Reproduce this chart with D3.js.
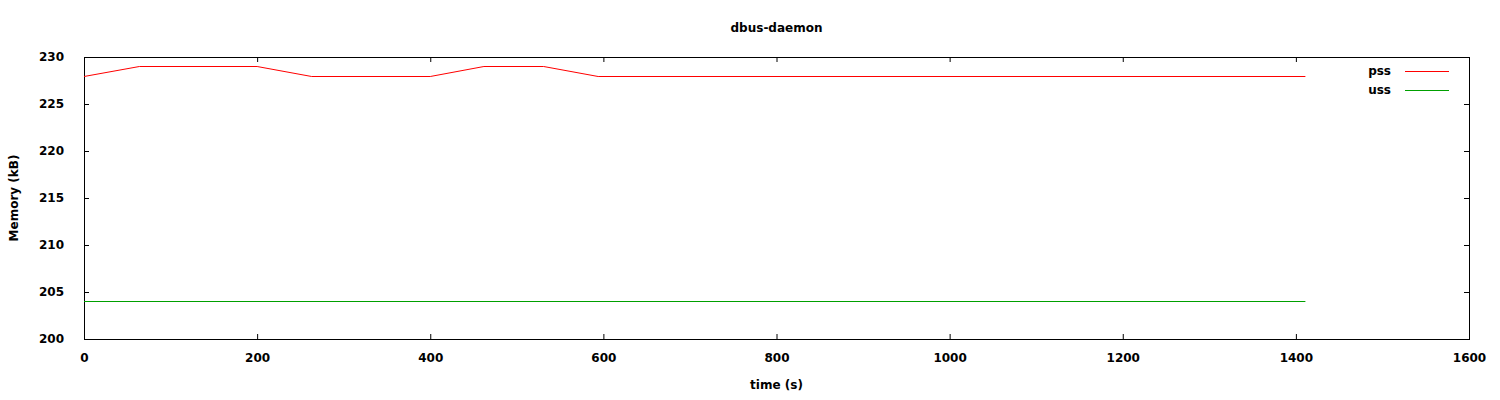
<!DOCTYPE html>
<html>
<head>
<meta charset="utf-8">
<script src="https://cdn.jsdelivr.net/npm/d3@7"></script>
<style>
body { margin: 0; background: #fff; }
text { font-family: "DejaVu Sans", sans-serif; font-size: 12px; font-weight: bold; fill: #000; }
</style>
</head>
<body>
<div id="figure"></div>
<script>
var W = 1500, H = 400;
var margin = {left: 84, right: 31, top: 57, bottom: 61};

// samples (time s, kB)
var pssTime = [0, 64, 200, 263, 400, 462, 531, 594, 1411];
var pssVal  = [228, 229, 229, 228, 228, 229, 229, 228, 228];
var ussTime = [0, 1411];
var ussVal  = [204, 204];

var xTicks = [0, 200, 400, 600, 800, 1000, 1200, 1400, 1600];
var yTicks = [200, 205, 210, 215, 220, 225, 230];

var series = [
	{label: "pss", color: "#ff0000", t: pssTime, v: pssVal},
	{label: "uss", color: "#00a000", t: ussTime, v: ussVal}
];

var svg = d3.select("#figure").append("svg").attr("width", W).attr("height", H);

var x = d3.scaleLinear().domain([0, 1600]).range([margin.left, W - margin.right]);
var y = d3.scaleLinear().domain([200, 230]).range([H - margin.bottom, margin.top]);

var tick = 5;

// ticks, mirrored on all sides, pointing inward
svg.append("g").attr("transform", "translate(0," + y(200) + ")")
	.call(d3.axisBottom(x).tickValues(xTicks).tickSizeInner(-tick).tickSizeOuter(0).tickPadding(14).tickFormat(d3.format("d")));
svg.append("g").attr("transform", "translate(0," + y(230) + ")")
	.call(d3.axisTop(x).tickValues(xTicks).tickSizeInner(-tick).tickSizeOuter(0).tickFormat(""));
svg.append("g").attr("transform", "translate(" + x(0) + ",0)")
	.call(d3.axisLeft(y).tickValues(yTicks).tickSizeInner(-tick).tickSizeOuter(0).tickPadding(20).tickFormat(d3.format("d")));
svg.append("g").attr("transform", "translate(" + x(1600) + ",0)")
	.call(d3.axisRight(y).tickValues(yTicks).tickSizeInner(-tick).tickSizeOuter(0).tickFormat(""));

svg.selectAll(".domain").remove();
svg.selectAll(".tick line").attr("stroke", "#000").attr("stroke-width", 1);
svg.selectAll(".tick text").style("font-size", "12px").style("font-family", "DejaVu Sans, sans-serif").attr("fill", "#000");

// frame
svg.append("rect")
	.attr("x", x(0) + 0.5).attr("y", y(230) + 0.5)
	.attr("width", x(1600) - x(0)).attr("height", y(200) - y(230))
	.attr("fill", "none").attr("stroke", "#000").attr("stroke-width", 1);

// lines
var line = d3.line()
	.x(function(d) { return x(d[0]); })
	.y(function(d) { return Math.round(y(d[1])) + 0.5; });

series.forEach(function(s) {
	var pts = s.t.map(function(t, i) { return [t, s.v[i]]; });
	svg.append("path").datum(pts)
		.attr("d", line)
		.attr("fill", "none")
		.attr("stroke", s.color)
		.attr("stroke-width", 1);
});

// legend
series.forEach(function(s, i) {
	var ly = 71 + i * 18.5;
	svg.append("text").attr("x", 1391).attr("y", ly).attr("dy", "0.35em")
		.attr("text-anchor", "end").text(s.label);
	svg.append("line").attr("x1", 1405).attr("x2", 1449)
		.attr("y1", Math.round(ly) + 0.5).attr("y2", Math.round(ly) + 0.5)
		.attr("stroke", s.color).attr("stroke-width", 1);
});

// title and axis labels
svg.append("text").attr("x", (x(0) + x(1600)) / 2).attr("y", 28).attr("dy", "0.35em")
	.attr("text-anchor", "middle").text("dbus-daemon");
svg.append("text").attr("x", (x(0) + x(1600)) / 2).attr("y", 385).attr("dy", "0.35em")
	.attr("text-anchor", "middle").text("time (s)");
svg.append("text")
	.attr("transform", "translate(14," + (y(200) + y(230)) / 2 + ")rotate(-90)")
	.attr("dy", "0.35em").attr("text-anchor", "middle").text("Memory (kB)");
</script>
</body>
</html>
